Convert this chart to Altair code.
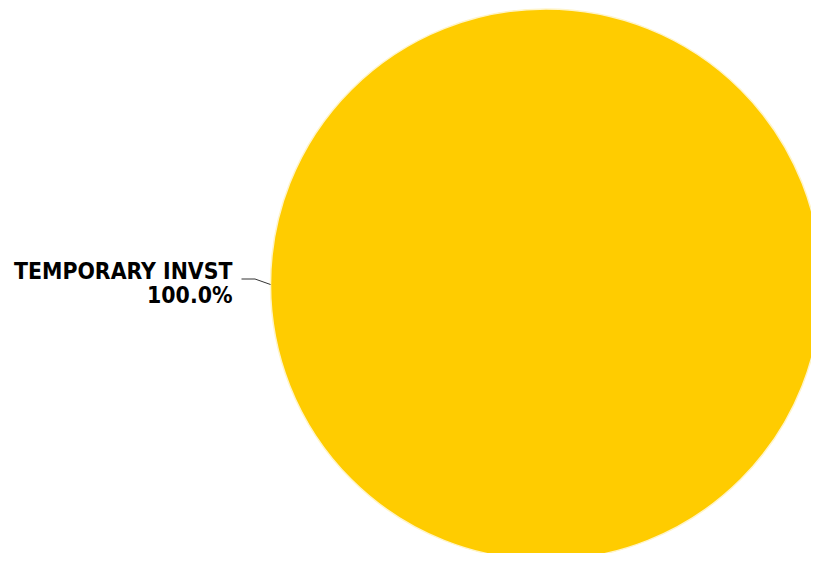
import altair as alt
import pandas as pd

categories = ["TEMPORARY INVST"]
values = [100.0]

W, H = 803, 545
cx, cy, r = 538.0, 276.5, 275.5

df = pd.DataFrame({"category": categories, "value": values})
total = sum(values)
df["pct"] = [f"{v / total * 100:.1f}%" for v in values]

# leader line anchored to the leftmost point of the pie
ax, ay = cx - r, cy
elbow_x, elbow_y = ax - 15.5, ay - 5.5
end_x = elbow_x - 13.5

base = alt.Chart(df)

pie = base.mark_arc(radius=r, stroke="#fff4c8", strokeWidth=1.5, color="#FFCC00").encode(
    theta=alt.Theta("value:Q", stack=True),
    x=alt.value(cx),
    y=alt.value(cy),
)

seg1 = base.mark_rule(color="#333333", strokeWidth=1).encode(
    x=alt.value(end_x), x2=alt.value(elbow_x), y=alt.value(elbow_y), y2=alt.value(elbow_y)
)
seg2 = base.mark_rule(color="#333333", strokeWidth=1).encode(
    x=alt.value(elbow_x), x2=alt.value(ax), y=alt.value(elbow_y), y2=alt.value(ay)
)

txt_style = dict(align="right", baseline="alphabetic", font="DejaVu Sans Condensed",
                 fontWeight="bold", fontSize=22.8, color="#000000")
name_text = base.mark_text(**txt_style).encode(
    text="category:N", x=alt.value(end_x - 9), y=alt.value(elbow_y)
)
pct_text = base.mark_text(**txt_style).encode(
    text="pct:N", x=alt.value(end_x - 9), y=alt.value(elbow_y + 24)
)

chart = alt.layer(pie, seg1, seg2, name_text, pct_text).properties(
    width=W, height=H, autosize=alt.AutoSizeParams(type="none"), padding=0
).configure_view(stroke=None)

chart.save("out.html", embed_options={"renderer": "svg", "actions": False})
